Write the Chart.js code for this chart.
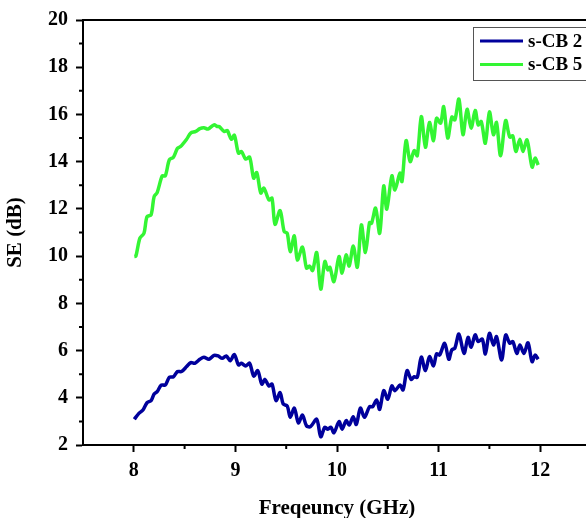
<!doctype html>
<html lang="en">
  <head>
    <meta charset="UTF-8" />
    <title>SE vs Frequency</title>
    <script src="https://cdn.jsdelivr.net/npm/chart.js"></script>
    <style>
      html,
      body {
        margin: 0;
        padding: 0;
        overflow: hidden;
        background: #fff;
      }
    </style>
  </head>
  <body>
    <canvas id="se_chart" width="596" height="518"></canvas>

    <script>
      // s-CB 2 (blue)
      const cb2Freq = [
        8.005, 8.05, 8.09, 8.13, 8.17, 8.2, 8.23, 8.27, 8.31, 8.35, 8.39, 8.43,
        8.47, 8.52, 8.56, 8.6, 8.65, 8.69, 8.74, 8.79, 8.83, 8.87, 8.91, 8.95,
        8.99, 9.03, 9.06, 9.1, 9.14, 9.18, 9.22, 9.26, 9.29, 9.33, 9.36, 9.4,
        9.44, 9.47, 9.51, 9.54, 9.58, 9.62, 9.66, 9.7, 9.74, 9.8, 9.84, 9.88,
        9.91, 9.94, 9.97, 10.02, 10.05, 10.09, 10.12, 10.16, 10.19, 10.23,
        10.27, 10.32, 10.35, 10.39, 10.42, 10.46, 10.5, 10.54, 10.57, 10.62,
        10.65, 10.69, 10.73, 10.76, 10.79, 10.83, 10.87, 10.91, 10.95, 10.98,
        11.01, 11.06, 11.1, 11.13, 11.16, 11.2, 11.25, 11.29, 11.32, 11.36,
        11.39, 11.43, 11.46, 11.5, 11.54, 11.57, 11.62, 11.66, 11.7, 11.73,
        11.77, 11.8, 11.84, 11.88, 11.92, 11.95, 11.98,
      ];
      const cb2SE = [
        3.09, 3.34, 3.48, 3.79, 3.88, 4.16, 4.26, 4.54, 4.54, 4.87, 4.89, 5.11,
        5.11, 5.32, 5.49, 5.46, 5.63, 5.72, 5.63, 5.8, 5.77, 5.67, 5.77, 5.57,
        5.83, 5.39, 5.46, 5.35, 5.46, 4.92, 5.15, 4.58, 4.78, 4.5, 4.58, 3.88,
        4.22, 3.74, 3.65, 3.17, 3.56, 2.94, 3.27, 2.81, 2.78, 3.09, 2.35, 2.75,
        2.67, 2.75, 2.52, 2.99, 2.67, 3.03, 2.85, 3.2, 2.87, 3.56, 3.17, 3.62,
        3.62, 3.91, 3.51, 4.3, 3.94, 4.5, 4.3, 4.54, 4.33, 5.15, 4.78, 4.89,
        4.87, 5.72, 5.15, 5.74, 5.35, 5.86, 5.81, 6.31, 5.63, 6.03, 6.1, 6.7,
        5.88, 6.56, 6.14, 6.66, 6.38, 6.48, 5.86, 6.73, 6.24, 6.59, 5.6, 6.66,
        6.31, 6.38, 5.88, 6.24, 5.88, 6.33, 5.53, 5.81, 5.63,
      ];

      // s-CB 5 (green)
      const cb5Freq = [
        8.005, 8.02, 8.06, 8.1, 8.13, 8.17, 8.2, 8.23, 8.28, 8.31, 8.35, 8.39,
        8.43, 8.46, 8.52, 8.56, 8.61, 8.65, 8.69, 8.73, 8.79, 8.82, 8.84, 8.89,
        8.92, 8.96, 8.99, 9.03, 9.06, 9.1, 9.14, 9.18, 9.21, 9.25, 9.28, 9.33,
        9.36, 9.39, 9.44, 9.48, 9.51, 9.54, 9.58, 9.61, 9.66, 9.7, 9.73, 9.76,
        9.8, 9.84, 9.88, 9.91, 9.93, 9.97, 10.02, 10.05, 10.09, 10.12, 10.16,
        10.2, 10.24, 10.28, 10.32, 10.34, 10.38, 10.42, 10.46, 10.49, 10.54,
        10.57, 10.62, 10.64, 10.68, 10.72, 10.76, 10.79, 10.83, 10.87, 10.91,
        10.95, 10.98, 11.02, 11.05, 11.09, 11.13, 11.16, 11.2, 11.24, 11.28,
        11.32, 11.36, 11.39, 11.42, 11.46, 11.5, 11.54, 11.57, 11.61, 11.66,
        11.7, 11.73, 11.76, 11.8, 11.83, 11.87, 11.92, 11.95, 11.98,
      ];
      const cb5SE = [
        9.98, 9.99, 10.76, 10.97, 11.67, 11.75, 12.52, 12.69, 13.4, 13.4, 14.08,
        14.19, 14.57, 14.64, 14.95, 15.21, 15.28, 15.4, 15.44, 15.38, 15.56,
        15.49, 15.49, 15.28, 15.32, 14.95, 15.12, 14.36, 14.43, 14.11, 14.19,
        13.3, 13.54, 12.67, 12.88, 12.38, 12.45, 11.35, 11.93, 11.04, 10.97,
        10.19, 10.86, 9.84, 10.38, 9.49, 9.58, 9.39, 10.15, 8.6, 9.77, 9.42,
        9.53, 8.92, 9.98, 9.28, 10.05, 9.58, 10.43, 9.53, 11.32, 10.15, 11.42,
        11.39, 12.03, 10.97, 12.97, 11.99, 13.4, 12.8, 13.52, 13.16, 14.89, 14.0,
        14.47, 14.25, 15.91, 14.61, 15.66, 14.89, 15.84, 15.63, 16.33, 15.0,
        15.89, 15.77, 16.65, 15.14, 16.22, 15.42, 16.17, 15.56, 15.7, 14.78,
        16.11, 15.14, 15.66, 14.25, 15.74, 15.04, 15.09, 14.43, 14.95, 14.43,
        14.92, 13.77, 14.15, 13.86,
      ];

      const xTicks = [8, 9, 10, 11, 12];
      const xMinorTicks = [8.5, 9.5, 10.5, 11.5, 12.5];
      const yTicks = [2, 4, 6, 8, 10, 12, 14, 16, 18, 20];
      const yMinorTicks = [3, 5, 7, 9, 11, 13, 15, 17, 19];

      const serif = "'Liberation Serif', 'Times New Roman', serif";
      const toPoints = (xs, ys) => xs.map((x, i) => ({ x: x, y: ys[i] }));

      // frame, minor ticks and the boxed legend
      const decorations = {
        id: "decorations",
        afterDraw(chart) {
          const ctx = chart.ctx;
          const area = chart.chartArea;
          const xs = chart.scales.x;
          const ys = chart.scales.y;
          ctx.save();
          ctx.strokeStyle = "#000";
          ctx.lineWidth = 2;
          ctx.beginPath();
          ctx.moveTo(area.left, area.top);
          ctx.lineTo(area.right, area.top);
          ctx.lineTo(area.right, area.bottom);
          ctx.stroke();

          ctx.beginPath();
          xMinorTicks.forEach((v) => {
            const px = xs.getPixelForValue(v);
            ctx.moveTo(px, area.bottom);
            ctx.lineTo(px, area.bottom + 4);
          });
          yMinorTicks.forEach((v) => {
            const py = ys.getPixelForValue(v);
            ctx.moveTo(area.left, py);
            ctx.lineTo(area.left - 4, py);
          });
          ctx.stroke();

          // legend
          ctx.lineWidth = 1;
          ctx.strokeStyle = "#555";
          ctx.strokeRect(473.5, 27.5, 140, 53);
          ctx.font = "bold 19px " + serif;
          ctx.textBaseline = "middle";
          ctx.fillStyle = "#000";
          chart.data.datasets.forEach((ds, i) => {
            const y = 41 + i * 23.5;
            ctx.strokeStyle = ds.borderColor;
            ctx.lineWidth = 3;
            ctx.beginPath();
            ctx.moveTo(480, y);
            ctx.lineTo(523, y);
            ctx.stroke();
            ctx.fillText(ds.label, 528, y + 1);
          });
          ctx.restore();
        },
      };

      const ctx = document.getElementById("se_chart").getContext("2d");
      const seChart = new Chart(ctx, {
        type: "line",
        data: {
          datasets: [
            {
              label: "s-CB 2",
              data: toPoints(cb2Freq, cb2SE),
              borderColor: "#00009c",
              borderWidth: 3.5,
              pointRadius: 0,
              tension: 0.3,
            },
            {
              label: "s-CB 5",
              data: toPoints(cb5Freq, cb5SE),
              borderColor: "#33f533",
              borderWidth: 3.5,
              pointRadius: 0,
              tension: 0.3,
            },
          ],
        },
        options: {
          responsive: false,
          animation: false,
          layout: { padding: { top: 20, right: 5 } },
          plugins: {
            legend: { display: false },
            tooltip: { enabled: false },
          },
          scales: {
            x: {
              type: "linear",
              min: 7.5,
              max: 12.5,
              afterBuildTicks: (scale) => {
                scale.ticks = xTicks.map((v) => ({ value: v }));
              },
              afterFit: (scale) => {
                scale.height = 73;
              },
              grid: {
                drawOnChartArea: false,
                tickLength: 7,
                tickWidth: 2,
                tickColor: "#000",
              },
              border: { width: 2, color: "#000" },
              ticks: {
                color: "#000",
                padding: 7,
                maxRotation: 0,
                font: { family: serif, size: 20, weight: "bold" },
              },
              title: {
                display: true,
                text: "Freqeuncy (GHz)",
                color: "#000",
                padding: { top: 0, bottom: -3 },
                font: { family: serif, size: 21, weight: "bold" },
              },
            },
            y: {
              min: 2,
              max: 20,
              afterBuildTicks: (scale) => {
                scale.ticks = yTicks.map((v) => ({ value: v }));
              },
              afterFit: (scale) => {
                scale.width = 83;
              },
              grid: {
                drawOnChartArea: false,
                tickLength: 7,
                tickWidth: 2,
                tickColor: "#000",
              },
              border: { width: 2, color: "#000" },
              ticks: {
                color: "#000",
                padding: 8,
                font: { family: serif, size: 20, weight: "bold" },
              },
              title: {
                display: true,
                text: "SE (dB)",
                color: "#000",
                padding: { top: 3, bottom: 0 },
                font: { family: serif, size: 21, weight: "bold" },
              },
            },
          },
        },
        plugins: [decorations],
      });
    </script>
  </body>
</html>
